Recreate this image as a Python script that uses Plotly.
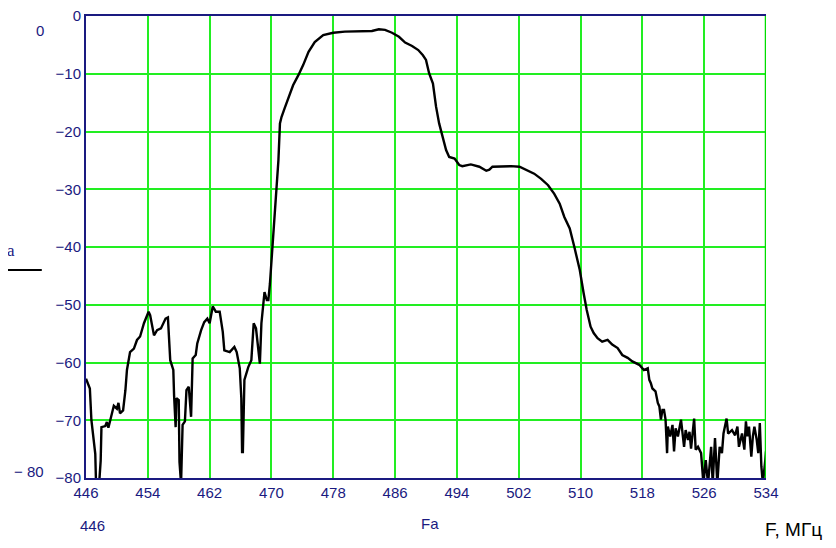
import plotly.graph_objects as go

freq = [446.0, 446.5, 446.7, 447.2, 447.3, 447.7, 447.9, 448.0, 448.5, 448.7, 448.9, 449.3, 449.6, 450.0,
        450.2, 450.4, 450.8, 451.1, 451.3, 451.7, 452.2, 452.6, 453.0, 453.5, 454.1, 454.3, 454.8, 455.2,
        455.7, 456.3, 456.6, 456.9, 457.3, 457.4, 457.6, 457.7, 458.0, 458.1, 458.3, 458.5, 458.8, 459.0,
        459.3, 459.6, 459.8, 460.2, 460.4, 460.9, 461.3, 461.7, 462.0, 462.4, 462.8, 463.3, 463.7, 463.9,
        464.6, 465.2, 465.5, 465.9, 466.1, 466.2, 466.3, 466.5, 467.0, 467.4, 467.7, 468.0, 468.3, 468.5,
        468.7, 468.9, 469.1, 469.4, 469.6, 469.8, 470.1, 470.4, 470.6, 470.9, 471.1, 471.3, 471.7, 472.2,
        472.8, 473.5, 474.1, 474.8, 475.6, 476.7, 478.0, 479.5, 481.7, 483.0, 483.9, 484.7, 485.6, 486.5,
        487.3, 488.2, 489.0, 489.6, 490.0, 490.4, 490.9, 491.3, 491.7, 492.2, 492.6, 493.0, 493.7, 494.3,
        494.7, 495.8, 496.9, 497.8, 498.2, 498.6, 499.7, 501.0, 502.1, 503.0, 504.0, 504.9, 505.8, 506.6,
        507.3, 507.9, 508.6, 509.2, 509.9, 510.4, 510.8, 511.3, 511.7, 512.2, 512.8, 513.5, 514.1, 514.8,
        515.4, 516.1, 516.7, 517.6, 518.2, 518.7, 518.9, 519.1, 519.3, 519.7, 520.0, 520.2, 520.4, 520.6,
        520.8, 521.0, 521.2, 521.3, 521.6, 521.9, 522.1, 522.3, 522.6, 523.0, 523.2, 523.4, 523.6, 523.9,
        524.1, 524.3, 524.5, 524.7, 524.9, 525.2, 525.6, 525.9, 526.2, 526.5, 526.9, 527.1, 527.4, 527.7,
        528.0, 528.3, 528.5, 528.7, 528.9, 529.1, 529.6, 530.0, 530.3, 530.5, 530.9, 531.2, 531.4, 531.6,
        531.8, 532.1, 532.3, 532.5, 532.8, 533.0, 533.2, 533.4, 533.6, 533.9, 534.0]

atten = [-62.8, -64.5, -70.0, -75.8, -81.0, -81.0, -77.0, -71.2, -71.0, -70.3, -71.3, -69.4, -67.5, -68.0,
         -67.0, -68.8, -68.3, -64.8, -61.3, -58.2, -57.6, -56.1, -55.5, -53.2, -51.2, -51.8, -55.3, -54.4,
         -54.1, -52.4, -52.2, -59.6, -61.3, -65.7, -71.2, -66.2, -66.5, -77.2, -81.0, -70.8, -70.2, -64.8,
         -64.2, -69.4, -59.3, -58.7, -56.7, -54.4, -53.0, -52.4, -53.2, -50.3, -51.2, -51.2, -54.7, -57.9,
         -58.2, -57.3, -58.2, -61.0, -66.2, -75.5, -75.5, -63.0, -60.8, -59.6, -53.2, -54.1, -57.3, -60.2,
         -53.2, -50.4, -47.8, -49.2, -49.2, -46.4, -40.6, -36.0, -30.8, -25.0, -18.6, -17.5, -16.0, -14.3,
         -12.0, -10.2, -8.5, -6.2, -4.5, -3.3, -2.9, -2.7, -2.6, -2.6, -2.3, -2.4, -2.9, -3.6,
         -4.6, -5.2, -5.9, -6.8, -7.6, -9.9, -11.7, -15.7, -18.6, -20.9, -23.2, -24.4, -24.7, -25.8,
         -26.0, -25.7, -26.1, -26.8, -26.6, -26.1, -26.0, -26.0, -26.1, -26.7, -27.3, -28.2, -29.3, -30.8,
         -32.5, -34.8, -36.8, -40.0, -44.0, -48.0, -50.9, -53.8, -54.9, -55.8, -56.4, -56.1, -56.9, -57.5,
         -58.7, -59.2, -59.8, -60.4, -61.3, -61.0, -63.0, -63.6, -64.5, -65.0, -67.0, -67.6, -69.9, -68.2,
         -68.2, -69.9, -75.7, -71.1, -72.8, -70.8, -75.4, -71.4, -72.8, -69.9, -72.8, -74.6, -71.7, -73.4,
         -72.0, -74.9, -72.3, -69.7, -75.1, -74.6, -75.7, -81.0, -76.9, -81.0, -74.6, -81.0, -73.1, -81.0,
         -74.6, -75.7, -72.3, -71.1, -69.7, -72.3, -71.7, -72.6, -71.1, -74.6, -72.3, -75.1, -70.2, -72.8,
         -71.1, -76.3, -72.8, -71.1, -73.4, -75.7, -70.5, -78.0, -81.0, -77.0, -75.4]

x_ticks = [446, 454, 462, 470, 478, 486, 494, 502, 510, 518, 526, 534]
y_ticks = [0, -10, -20, -30, -40, -50, -60, -70, -80]
y_tick_labels = ["0", "\u221210", "\u221220", "\u221230", "\u221240", "\u221250", "\u221260", "\u221270", "\u221280"]

NAVY = "#1a1a80"
GREEN = "#22ee22"
TICKFONT = dict(family="Liberation Sans Narrow, Liberation Sans, Arial", size=15, color=NAVY)

fig = go.Figure()
fig.add_trace(go.Scatter(x=freq, y=atten, mode="lines",
                         line=dict(color="black", width=2.4), showlegend=False,
                         hoverinfo="skip"))


def note(text, x, y, font):
    return dict(text=text, xref="paper", yref="paper", x=x, y=y, showarrow=False,
                xanchor="center", yanchor="middle", font=font)


# page body has an 8px default margin, so the figure is shrunk/offset to compensate
fig.update_layout(
    width=820, height=532,
    margin=dict(l=78, r=62, t=8, b=62),
    paper_bgcolor="white", plot_bgcolor="white",
    xaxis=dict(range=[446, 534], tickvals=x_ticks, ticktext=[str(v) for v in x_ticks],
               showgrid=True, gridcolor=GREEN, gridwidth=1.5, automargin=False,
               showline=True, linecolor=NAVY, linewidth=2, mirror=True,
               ticks="", tickfont=TICKFONT, zeroline=False, ticklabeloverflow="allow"),
    yaxis=dict(range=[-80, 0], tickvals=y_ticks, ticktext=y_tick_labels,
               showgrid=True, gridcolor=GREEN, gridwidth=2, automargin=False,
               showline=True, linecolor=NAVY, linewidth=2, mirror=False,
               ticks="", tickfont=TICKFONT, zeroline=False, ticklabeloverflow="allow"),
    shapes=[
        dict(type="line", xref="x", yref="paper", x0=534, x1=534, y0=0, y1=1,
             line=dict(color="#00dd00", width=2.5)),
        dict(type="line", xref="paper", yref="paper", x0=-0.119, x1=-0.065, y0=0.45, y1=0.45,
             line=dict(color="black", width=2)),
    ],
    annotations=[
        note("0", -0.068, 0.968, TICKFONT),
        note("a", -0.111, 0.493, dict(family="Liberation Serif, Times New Roman", size=17, color=NAVY)),
        note("− 80", -0.084, 0.013, TICKFONT),
        note("446", 0.010, -0.102, TICKFONT),
        note("Fa", 0.506, -0.098, TICKFONT),
        note("F, МГц", 1.041, -0.1115, dict(family="Liberation Sans, Arial", size=19, color="black")),
    ],
)

fig.write_html("out.html")
